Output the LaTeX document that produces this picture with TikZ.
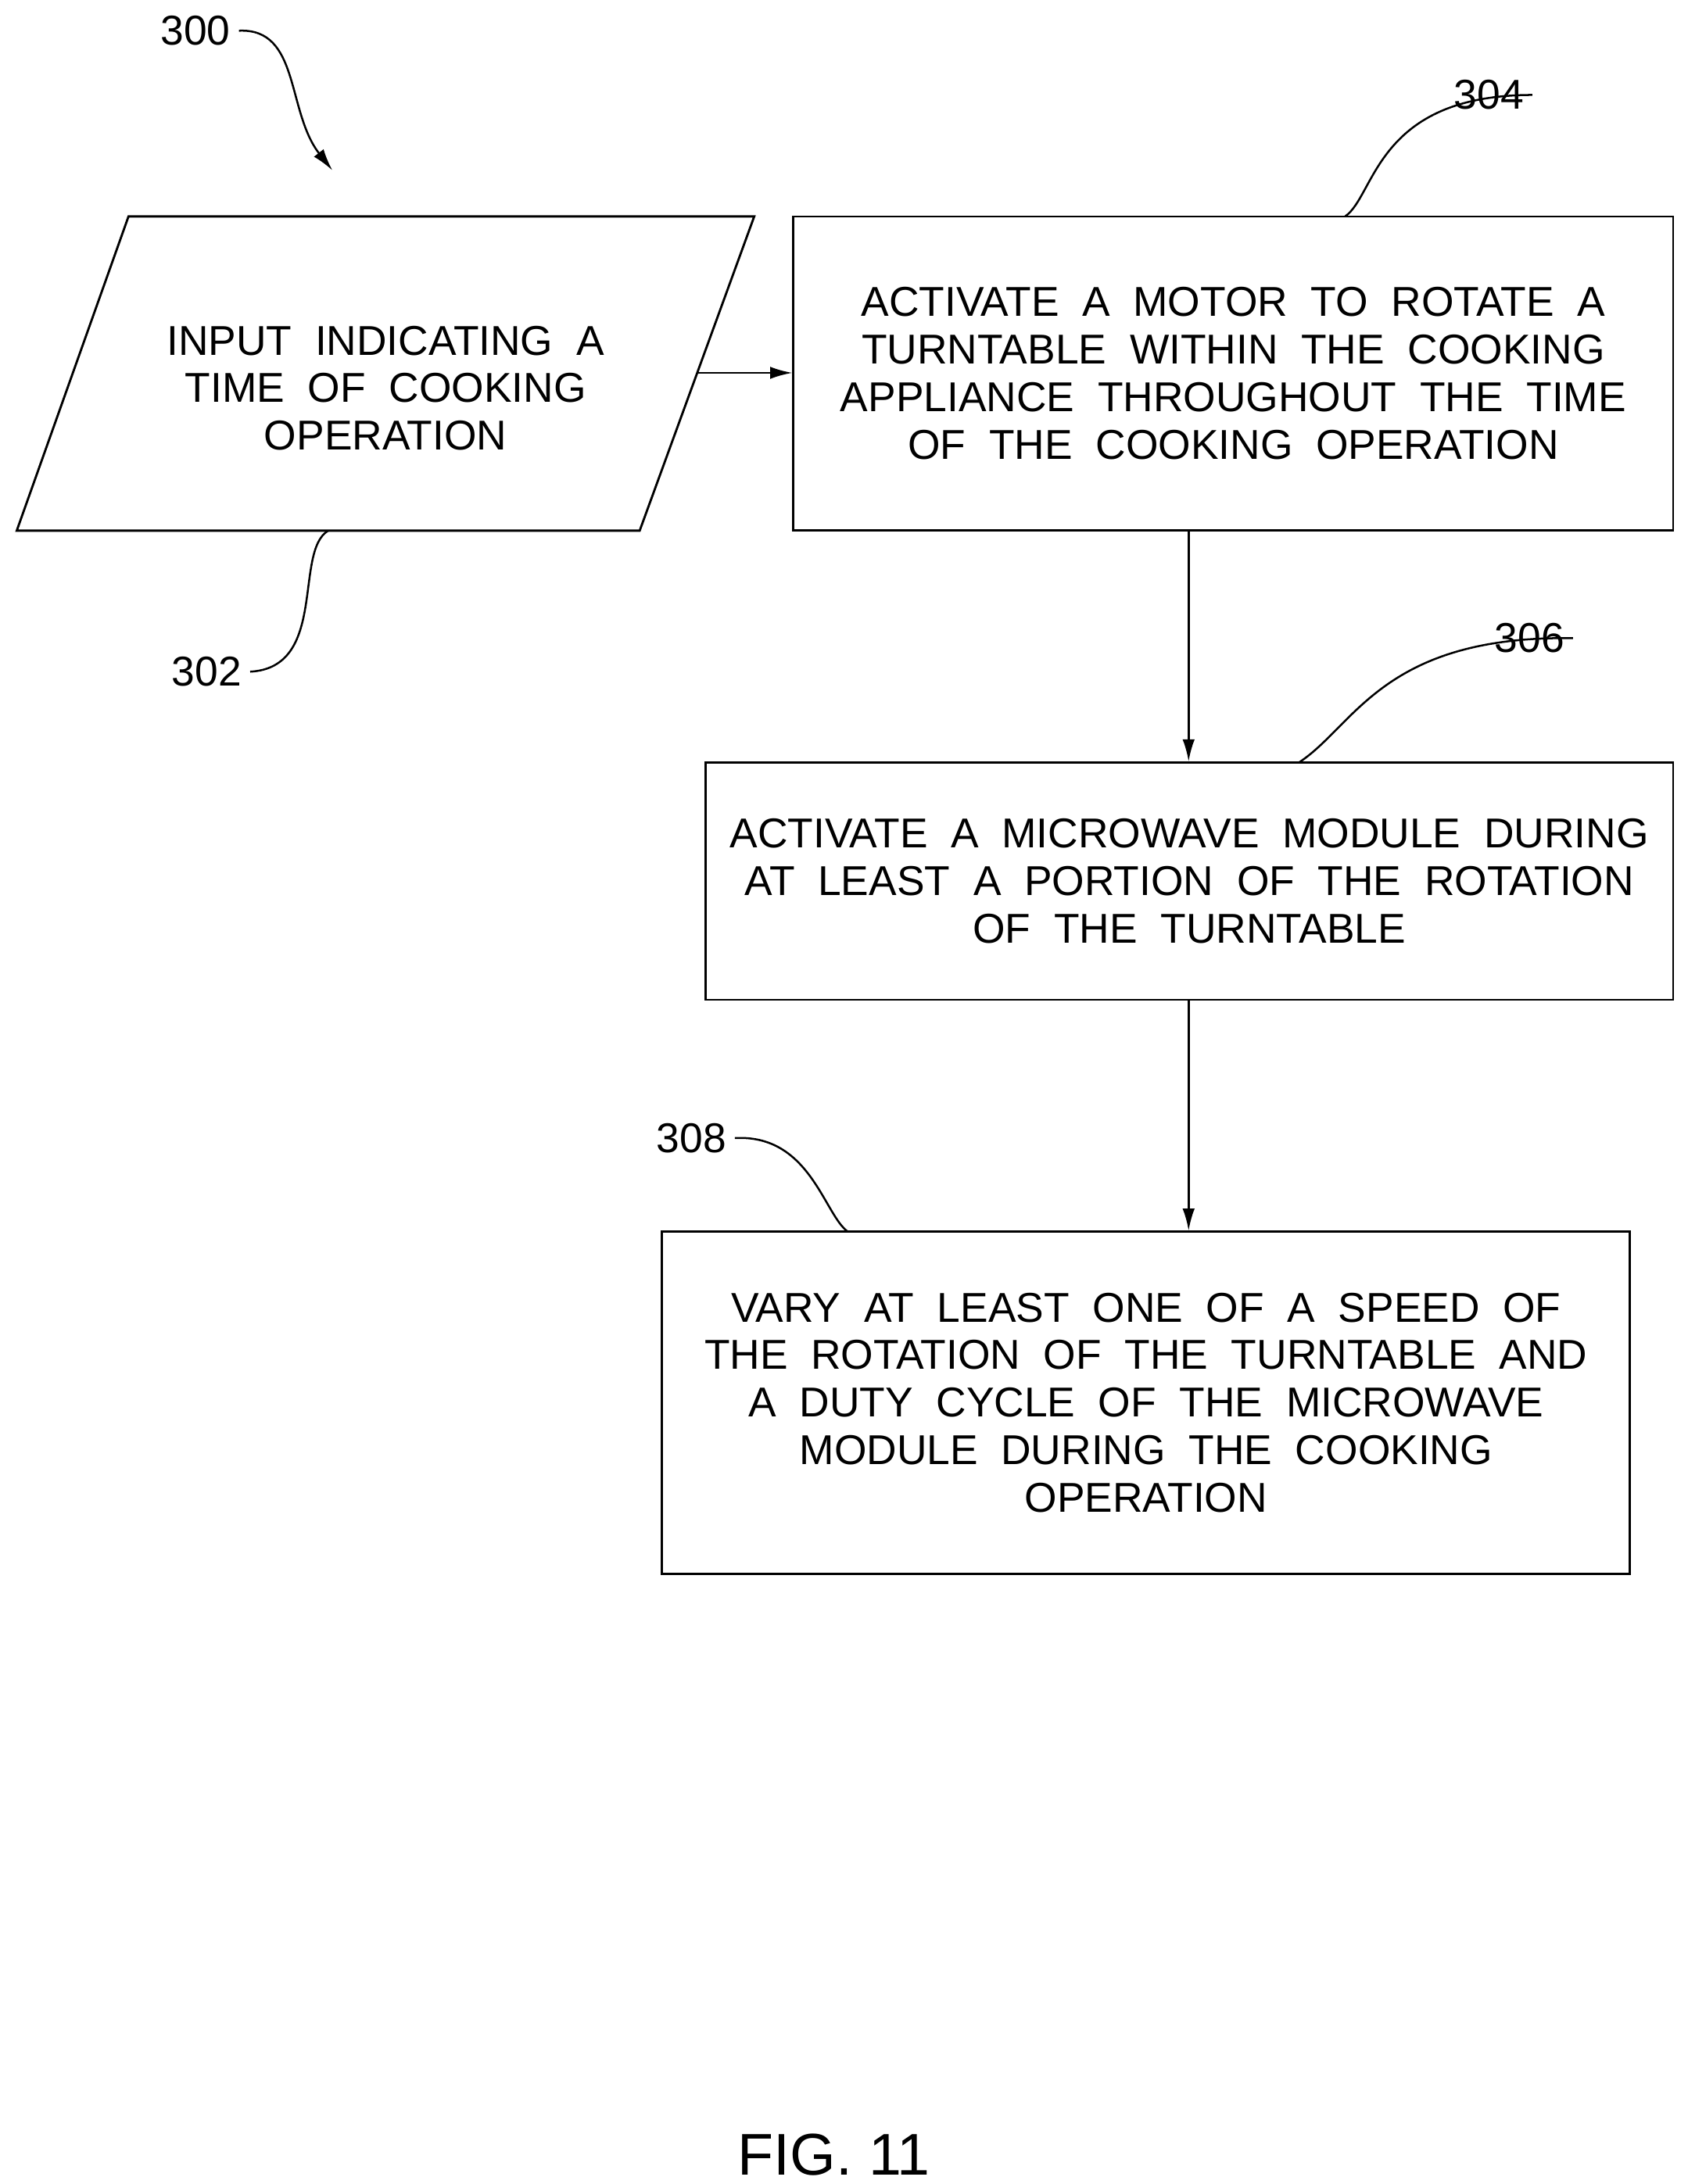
\documentclass[tikz,border=0pt]{standalone}
\usepackage{fontspec}
\setmainfont{Liberation Sans}
\newfontfamily\boxfont{Liberation Sans}[WordSpace=2]
\usetikzlibrary{positioning,arrows.meta}
\tikzset{
  stepbox/.style={draw, line width=0.9pt, align=center, inner sep=0pt,
    font=\boxfont\fontsize{17}{19.4}\selectfont},
  flow/.style={-{Latex[length=9pt,width=5pt]}, line width=0.8pt},
  lead/.style={line width=0.8pt},
  reftext/.style={font=\fontsize{17}{20}\selectfont}
}
\begin{document}
\begin{tikzpicture}[x=0.02cm,y=-0.02cm]
   \useasboundingbox (0,0) rectangle (1208,1564);

   % input parallelogram
   \draw[line width=0.9pt] (92,155) -- (540,155) -- (458,380) -- (12,380) -- cycle;
   \node[stepbox, draw=none] (input) at (276,278) {INPUT INDICATING A\\TIME OF COOKING\\OPERATION};
   \coordinate (inputout) at (499,267);

   % steps
   \node[stepbox, minimum width=12.6cm, minimum height=4.5cm] (motor) at (883,267.5)
     {ACTIVATE A MOTOR TO ROTATE A\\TURNTABLE WITHIN THE COOKING\\APPLIANCE THROUGHOUT THE TIME\\OF THE COOKING OPERATION};
   \node[stepbox, minimum width=13.86cm, minimum height=3.4cm] (micro) at (851.5,631)
     {ACTIVATE A MICROWAVE MODULE DURING\\AT LEAST A PORTION OF THE ROTATION\\OF THE TURNTABLE};
   \node[stepbox, minimum width=13.86cm, minimum height=4.9cm] (vary) at (820.5,1004.5)
     {VARY AT LEAST ONE OF A SPEED OF\\THE ROTATION OF THE TURNTABLE AND\\A DUTY CYCLE OF THE MICROWAVE\\MODULE DURING THE COOKING\\OPERATION};

   \coordinate (col) at (851,0);
   \draw[flow] (inputout) -- (motor.west |- inputout);
   \draw[flow] (col |- motor.south) -- (col |- micro.north);
   \draw[flow] (col |- micro.south) -- (col |- vary.north);

   % reference numerals
   \node[reftext] (r300) at (140,22) {300};
   \node[reftext] (r302) at (148,481) {302};
   \node[reftext] (r304) at (1066,68) {304};
   \node[reftext] (r306) at (1095,457) {306};
   \node[reftext] (r308) at (495,815) {308};
   \node[font=\fontsize{24}{28}\selectfont] (fig) at (597,1543) {FIG. 11};

   \draw[flow] (r300.east) .. controls (215,20) and (205,80) .. (238,122);
   \draw[lead] (r302.east) .. controls (235,478) and (210,395) .. (235,380);
   \draw[lead] (r304.east) .. controls (985,68) and (985,140) .. (963,155);
   \draw[lead] (r306.east) .. controls (990,455) and (970,520) .. (930,546);
   \draw[lead] (r308.east) .. controls (580,812) and (590,870) .. (607,882);
\end{tikzpicture}
\end{document}
